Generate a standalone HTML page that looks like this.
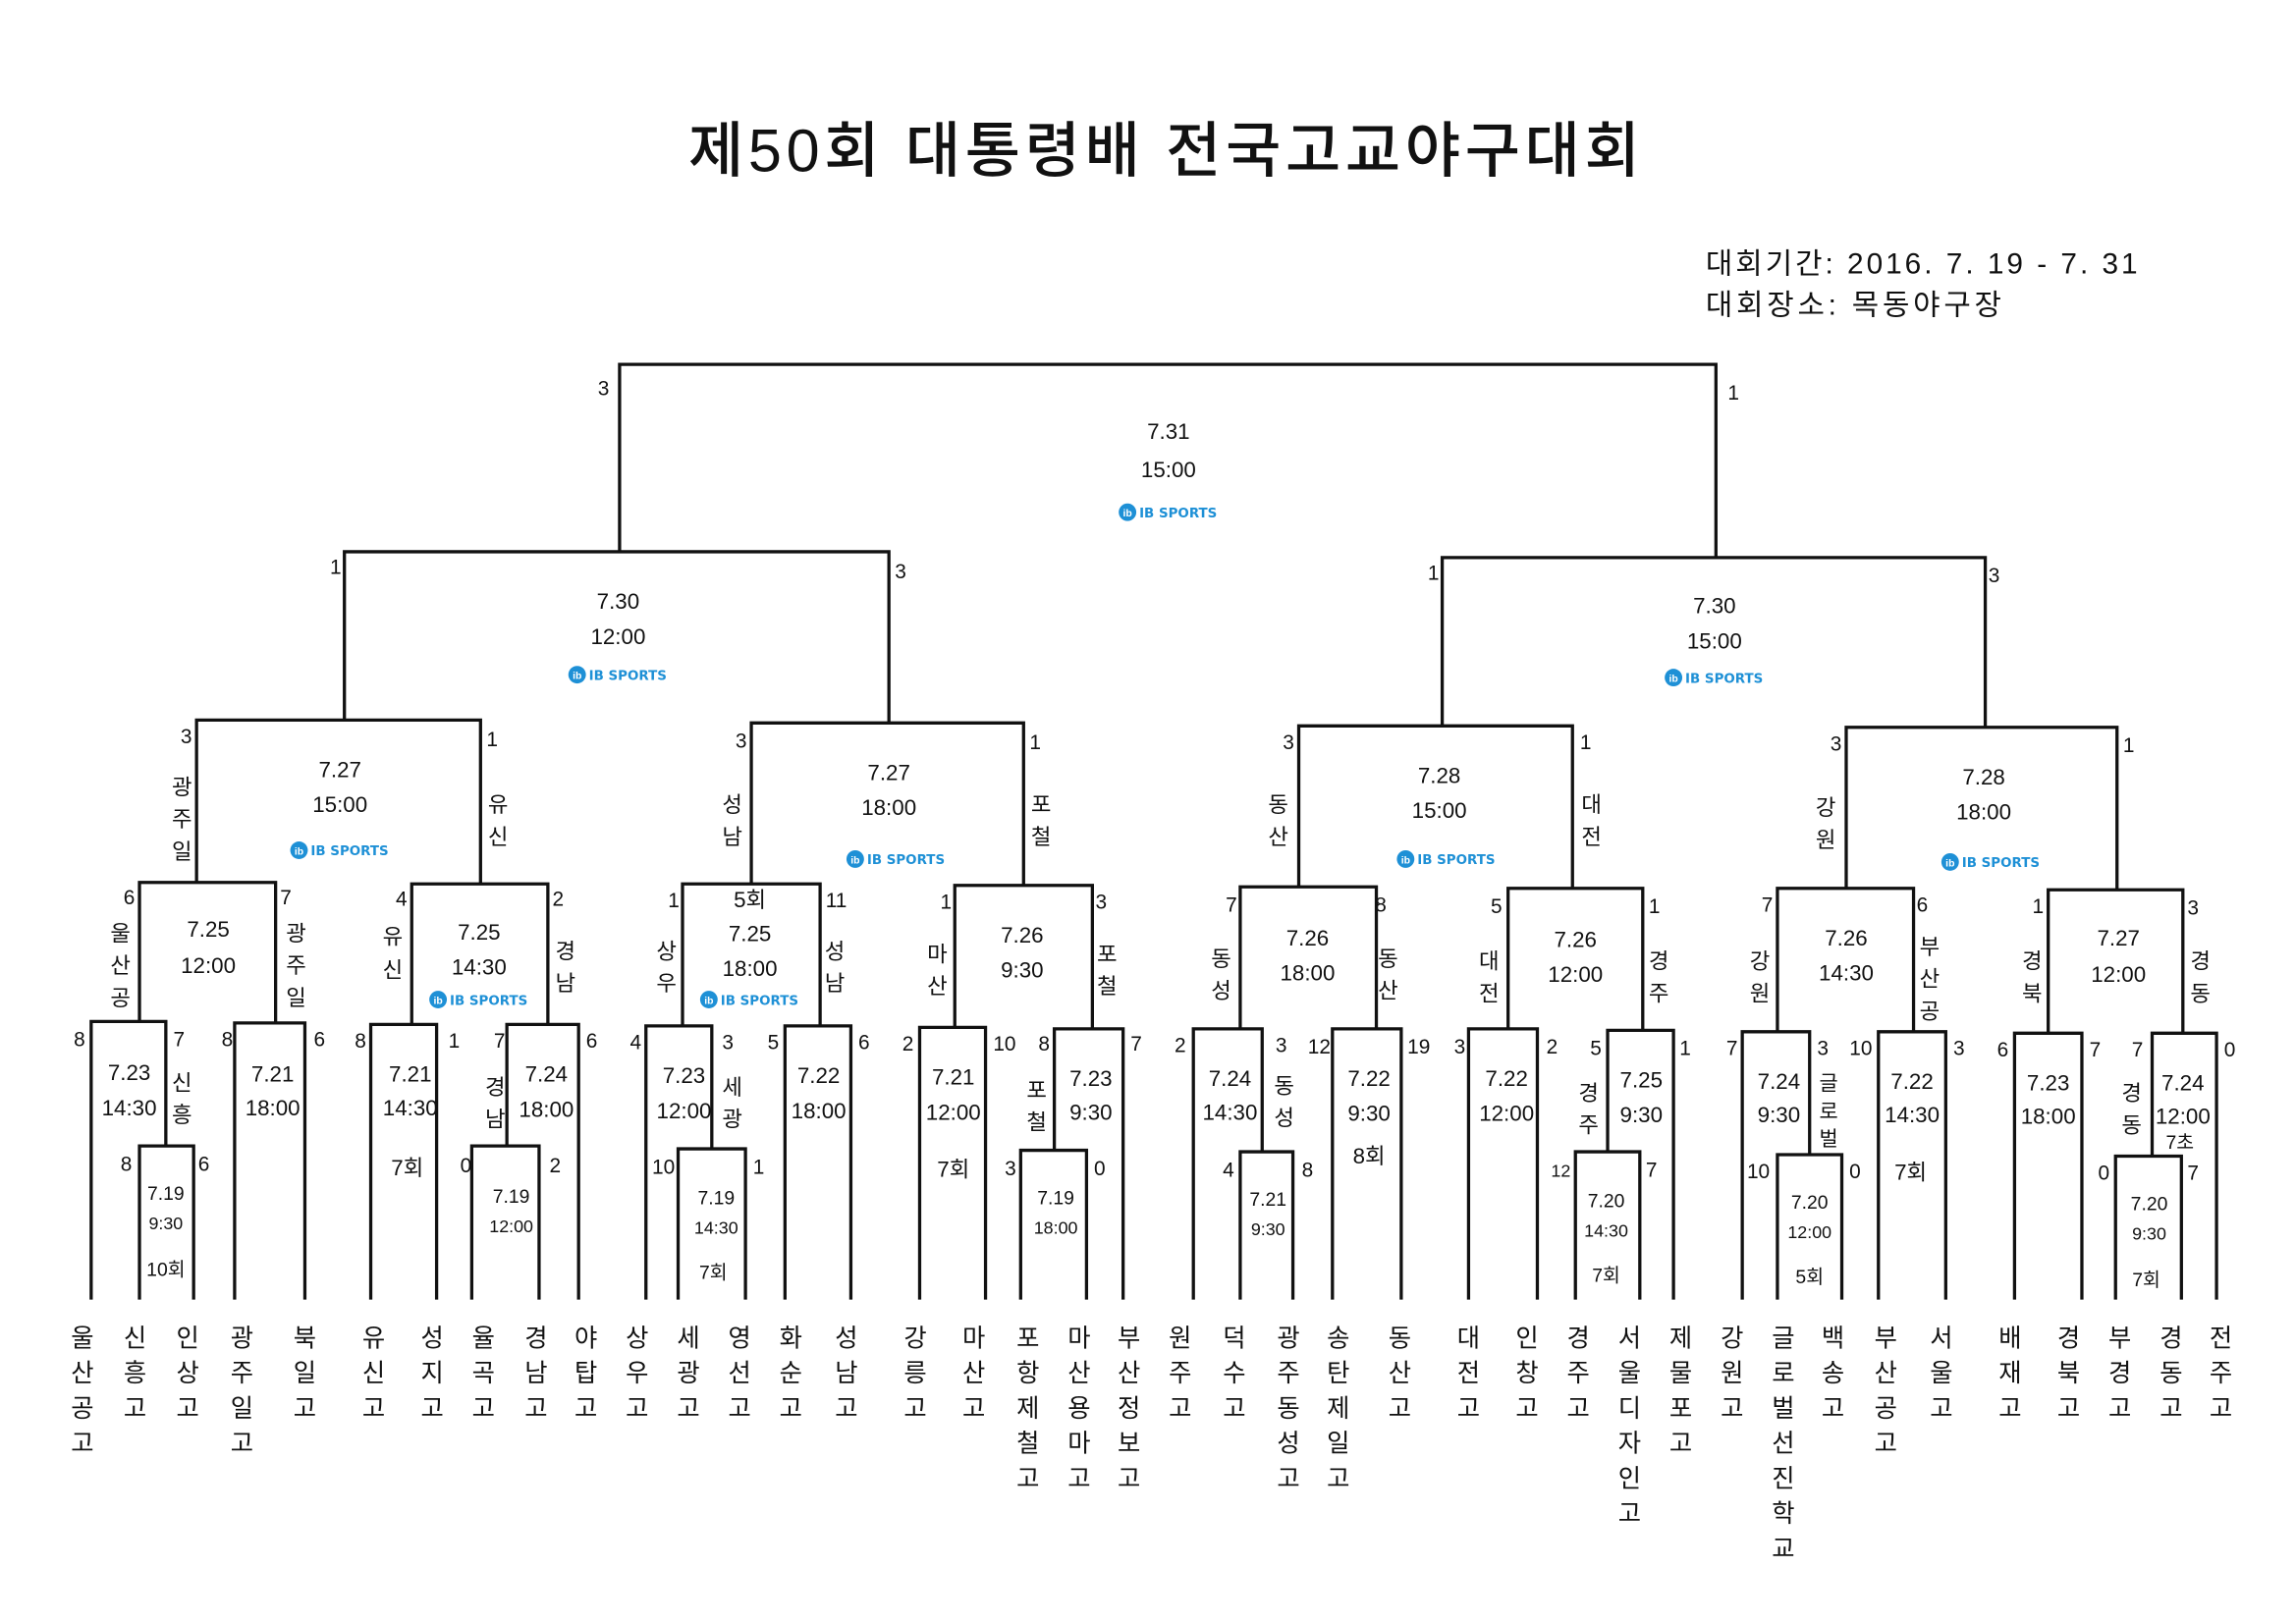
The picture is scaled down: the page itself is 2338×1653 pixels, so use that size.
<!DOCTYPE html>
<html><head><meta charset="utf-8"><style>
html,body{margin:0;padding:0;background:#fff}
svg{display:block}
text{font-family:"Liberation Sans","Noto Sans CJK KR",sans-serif;fill:#111}
.t{font-size:15px;text-anchor:middle}
.s{font-size:14px;text-anchor:middle}
.v{font-size:15px;text-anchor:middle}
.n{font-size:17px;text-anchor:middle}
.lg{font-size:9px;font-weight:bold;fill:#1e90d6;font-family:"DejaVu Sans","Liberation Sans",sans-serif}
</style></head><body>
<svg width="2338" height="1653" viewBox="0 0 1568 1109" xmlns="http://www.w3.org/2000/svg">
<text x="795" y="117" textLength="650" lengthAdjust="spacing" style="font-size:41px;text-anchor:middle;font-weight:500">제50회 대통령배 전국고교야구대회</text>
<text x="1165" y="187" textLength="295" lengthAdjust="spacing" style="font-size:20px">대회기간: 2016. 7. 19 - 7. 31</text>
<text x="1165" y="215" textLength="202" lengthAdjust="spacing" style="font-size:20px">대회장소: 목동야구장</text>

<g fill="none" stroke="#111" stroke-width="2.2">
<path d="M423 377V249H1172V381"/>
<path d="M235 492V377H607V494"/>
<path d="M985 496V381H1356V497"/>
<path d="M134 603V492H328V604"/>
<path d="M513 604V494H699V605"/>
<path d="M887 606V496H1074V607"/>
<path d="M1261 607V497H1446V608"/>
<path d="M95 698V603H188V699"/>
<path d="M281 700V604H374V700"/>
<path d="M466 701V604H560V701"/>
<path d="M652 702V605H746V703"/>
<path d="M847 703V606H940V703"/>
<path d="M1030 703V607H1122V704"/>
<path d="M1214 705V607H1307V705"/>
<path d="M1399 706V608H1491V706"/>
<path d="M62 888V698H113V783"/><path d="M95 888V783H132V888"/>
<path d="M160 888V699H208V888"/>
<path d="M253 888V700H298V888"/>
<path d="M346 783V700H395V888"/><path d="M322 888V783H368V888"/>
<path d="M441 888V701H486V785"/><path d="M463 888V785H509V888"/>
<path d="M536 888V701H581V888"/>
<path d="M628 888V702H673V888"/>
<path d="M720 786V703H767V888"/><path d="M697 888V786H742V888"/>
<path d="M815 888V703H862V787"/><path d="M847 888V787H883V888"/>
<path d="M910 888V703H957V888"/>
<path d="M1003 888V703H1050V888"/>
<path d="M1098 787V704H1143V888"/><path d="M1076 888V787H1120V888"/>
<path d="M1190 888V705H1236V789"/><path d="M1214 888V789H1258V888"/>
<path d="M1283 888V705H1329V888"/>
<path d="M1376 888V706H1422V888"/>
<path d="M1470 790V706H1514V888"/><path d="M1445 888V790H1490V888"/>
</g>

<g class="s">
<text class="s" x="412" y="270">3</text><text class="s" x="1184" y="273">1</text>
<text class="s" x="229" y="392">1</text><text class="s" x="615" y="395">3</text>
<text class="s" x="979" y="396">1</text><text class="s" x="1362" y="398">3</text>
<text class="s" x="127" y="508">3</text><text class="s" x="336" y="510">1</text>
<text class="s" x="506" y="511">3</text><text class="s" x="707" y="512">1</text>
<text class="s" x="880" y="512">3</text><text class="s" x="1083" y="512">1</text>
<text class="s" x="1254" y="513">3</text><text class="s" x="1454" y="514">1</text>
<text class="s" x="88" y="618">6</text><text class="s" x="195" y="618">7</text>
<text class="s" x="274" y="619">4</text><text class="s" x="381" y="619">2</text>
<text class="s" x="460" y="620">1</text><text class="s" x="571" y="620">11</text>
<text class="s" x="646" y="621">1</text><text class="s" x="752" y="621">3</text>
<text class="s" x="841" y="623">7</text><text class="s" x="943" y="623">8</text>
<text class="s" x="1022" y="624">5</text><text class="s" x="1130" y="624">1</text>
<text class="s" x="1207" y="623">7</text><text class="s" x="1313" y="623">6</text>
<text class="s" x="1392" y="624">1</text><text class="s" x="1498" y="625">3</text>
<text class="s" x="54" y="715">8</text><text class="s" x="122" y="715">7</text>
<text class="s" x="86" y="800">8</text><text class="s" x="139" y="800">6</text>
<text class="s" x="155" y="715">8</text><text class="s" x="218" y="715">6</text>
<text class="s" x="246" y="716">8</text><text class="s" x="310" y="716">1</text>
<text class="s" x="341" y="716">7</text><text class="s" x="404" y="716">6</text>
<text class="s" x="318" y="801">0</text><text class="s" x="379" y="801">2</text>
<text class="s" x="434" y="717">4</text><text class="s" x="497" y="717">3</text>
<text class="s" x="453" y="802">10</text><text class="s" x="518" y="802">1</text>
<text class="s" x="528" y="717">5</text><text class="s" x="590" y="717">6</text>
<text class="s" x="620" y="718">2</text><text class="s" x="686" y="718">10</text>
<text class="s" x="713" y="718">8</text><text class="s" x="776" y="718">7</text>
<text class="s" x="690" y="803">3</text><text class="s" x="751" y="803">0</text>
<text class="s" x="806" y="719">2</text><text class="s" x="875" y="719">3</text>
<text class="s" x="839" y="804">4</text><text class="s" x="893" y="804">8</text>
<text class="s" x="901" y="720">12</text><text class="s" x="969" y="720">19</text>
<text class="s" x="997" y="720">3</text><text class="s" x="1060" y="720">2</text>
<text class="s" x="1090" y="721">5</text><text class="s" x="1151" y="721">1</text>
<text class="s" x="1066" y="804" style="font-size:12px">12</text><text class="s" x="1128" y="804">7</text>
<text class="s" x="1183" y="721">7</text><text class="s" x="1245" y="721">3</text>
<text class="s" x="1201" y="805">10</text><text class="s" x="1267" y="805">0</text>
<text class="s" x="1271" y="721">10</text><text class="s" x="1338" y="721">3</text>
<text class="s" x="1368" y="722">6</text><text class="s" x="1431" y="722">7</text>
<text class="s" x="1460" y="722">7</text><text class="s" x="1523" y="722">0</text>
<text class="s" x="1437" y="806">0</text><text class="s" x="1498" y="806">7</text>
</g>

<g>
<text class="t" x="798" y="300">7.31</text><text class="t" x="798" y="326">15:00</text>
<text class="t" x="422" y="416">7.30</text><text class="t" x="422" y="440">12:00</text>
<text class="t" x="1171" y="419">7.30</text><text class="t" x="1171" y="443">15:00</text>
<text class="t" x="232" y="531">7.27</text><text class="t" x="232" y="555">15:00</text>
<text class="t" x="607" y="533">7.27</text><text class="t" x="607" y="557">18:00</text>
<text class="t" x="983" y="535">7.28</text><text class="t" x="983" y="559">15:00</text>
<text class="t" x="1355" y="536">7.28</text><text class="t" x="1355" y="560">18:00</text>
<text class="t" x="142" y="640">7.25</text><text class="t" x="142" y="665">12:00</text>
<text class="t" x="327" y="642">7.25</text><text class="t" x="327" y="666">14:30</text>
<text class="t" x="512" y="620">5회</text><text class="t" x="512" y="643">7.25</text><text class="t" x="512" y="667">18:00</text>
<text class="t" x="698" y="644">7.26</text><text class="t" x="698" y="668">9:30</text>
<text class="t" x="893" y="646">7.26</text><text class="t" x="893" y="670">18:00</text>
<text class="t" x="1076" y="647">7.26</text><text class="t" x="1076" y="671">12:00</text>
<text class="t" x="1261" y="646">7.26</text><text class="t" x="1261" y="670">14:30</text>
<text class="t" x="1447" y="646">7.27</text><text class="t" x="1447" y="671">12:00</text>

<text class="t" x="88" y="738">7.23</text><text class="t" x="88" y="762">14:30</text>
<text class="t" x="113" y="820" style="font-size:13px">7.19</text><text class="t" x="113" y="840" style="font-size:12px">9:30</text><text class="t" x="113" y="872" style="font-size:13px">10회</text>
<text class="t" x="186" y="739">7.21</text><text class="t" x="186" y="762">18:00</text>
<text class="t" x="280" y="739">7.21</text><text class="t" x="280" y="762">14:30</text><text class="t" x="278" y="803">7회</text>
<text class="t" x="373" y="739">7.24</text><text class="t" x="373" y="763">18:00</text>
<text class="t" x="349" y="822" style="font-size:13px">7.19</text><text class="t" x="349" y="842" style="font-size:12px">12:00</text>
<text class="t" x="467" y="740">7.23</text><text class="t" x="467" y="764">12:00</text>
<text class="t" x="489" y="823" style="font-size:13px">7.19</text><text class="t" x="489" y="843" style="font-size:12px">14:30</text><text class="t" x="487" y="874" style="font-size:13px">7회</text>
<text class="t" x="559" y="740">7.22</text><text class="t" x="559" y="764">18:00</text>
<text class="t" x="651" y="741">7.21</text><text class="t" x="651" y="765">12:00</text><text class="t" x="651" y="804">7회</text>
<text class="t" x="745" y="742">7.23</text><text class="t" x="745" y="765">9:30</text>
<text class="t" x="721" y="823" style="font-size:13px">7.19</text><text class="t" x="721" y="843" style="font-size:12px">18:00</text>
<text class="t" x="840" y="742">7.24</text><text class="t" x="840" y="765">14:30</text>
<text class="t" x="866" y="824" style="font-size:13px">7.21</text><text class="t" x="866" y="844" style="font-size:12px">9:30</text>
<text class="t" x="935" y="742">7.22</text><text class="t" x="935" y="766">9:30</text><text class="t" x="935" y="795">8회</text>
<text class="t" x="1029" y="742">7.22</text><text class="t" x="1029" y="766">12:00</text>
<text class="t" x="1121" y="743">7.25</text><text class="t" x="1121" y="767">9:30</text>
<text class="t" x="1097" y="825" style="font-size:13px">7.20</text><text class="t" x="1097" y="845" style="font-size:12px">14:30</text><text class="t" x="1097" y="876" style="font-size:13px">7회</text>
<text class="t" x="1215" y="744">7.24</text><text class="t" x="1215" y="767">9:30</text>
<text class="t" x="1236" y="826" style="font-size:13px">7.20</text><text class="t" x="1236" y="846" style="font-size:12px">12:00</text><text class="t" x="1236" y="877" style="font-size:13px">5회</text>
<text class="t" x="1306" y="744">7.22</text><text class="t" x="1306" y="767">14:30</text><text class="t" x="1305" y="806">7회</text>
<text class="t" x="1399" y="745">7.23</text><text class="t" x="1399" y="768">18:00</text>
<text class="t" x="1491" y="745">7.24</text><text class="t" x="1491" y="768">12:00</text><text class="t" x="1489" y="785" style="font-size:13px">7초</text>
<text class="t" x="1468" y="827" style="font-size:13px">7.20</text><text class="t" x="1468" y="847" style="font-size:12px">9:30</text><text class="t" x="1466" y="879" style="font-size:13px">7회</text>
</g>

<g>
<g transform="translate(798,350)"><circle cx="-28" cy="0" r="6" fill="#1e90d6"/><text x="-28" y="3" style="font-size:7px;fill:#fff;text-anchor:middle;font-weight:bold">ib</text><text class="lg" x="-20" y="3.5">IB SPORTS</text></g>
<g transform="translate(422,461)"><circle cx="-28" cy="0" r="6" fill="#1e90d6"/><text x="-28" y="3" style="font-size:7px;fill:#fff;text-anchor:middle;font-weight:bold">ib</text><text class="lg" x="-20" y="3.5">IB SPORTS</text></g>
<g transform="translate(1171,463)"><circle cx="-28" cy="0" r="6" fill="#1e90d6"/><text x="-28" y="3" style="font-size:7px;fill:#fff;text-anchor:middle;font-weight:bold">ib</text><text class="lg" x="-20" y="3.5">IB SPORTS</text></g>
<g transform="translate(232,581)"><circle cx="-28" cy="0" r="6" fill="#1e90d6"/><text x="-28" y="3" style="font-size:7px;fill:#fff;text-anchor:middle;font-weight:bold">ib</text><text class="lg" x="-20" y="3.5">IB SPORTS</text></g>
<g transform="translate(612,587)"><circle cx="-28" cy="0" r="6" fill="#1e90d6"/><text x="-28" y="3" style="font-size:7px;fill:#fff;text-anchor:middle;font-weight:bold">ib</text><text class="lg" x="-20" y="3.5">IB SPORTS</text></g>
<g transform="translate(988,587)"><circle cx="-28" cy="0" r="6" fill="#1e90d6"/><text x="-28" y="3" style="font-size:7px;fill:#fff;text-anchor:middle;font-weight:bold">ib</text><text class="lg" x="-20" y="3.5">IB SPORTS</text></g>
<g transform="translate(1360,589)"><circle cx="-28" cy="0" r="6" fill="#1e90d6"/><text x="-28" y="3" style="font-size:7px;fill:#fff;text-anchor:middle;font-weight:bold">ib</text><text class="lg" x="-20" y="3.5">IB SPORTS</text></g>
<g transform="translate(327,683)"><circle cx="-28" cy="0" r="6" fill="#1e90d6"/><text x="-28" y="3" style="font-size:7px;fill:#fff;text-anchor:middle;font-weight:bold">ib</text><text class="lg" x="-20" y="3.5">IB SPORTS</text></g>
<g transform="translate(512,683)"><circle cx="-28" cy="0" r="6" fill="#1e90d6"/><text x="-28" y="3" style="font-size:7px;fill:#fff;text-anchor:middle;font-weight:bold">ib</text><text class="lg" x="-20" y="3.5">IB SPORTS</text></g>
</g>

<g>
<text class="v"><tspan x="124" y="543">광</tspan><tspan x="124" y="565">주</tspan><tspan x="124" y="587">일</tspan></text>
<text class="v"><tspan x="340" y="555">유</tspan><tspan x="340" y="577">신</tspan></text>
<text class="v"><tspan x="500" y="555">성</tspan><tspan x="500" y="577">남</tspan></text>
<text class="v"><tspan x="711" y="555">포</tspan><tspan x="711" y="577">철</tspan></text>
<text class="v"><tspan x="873" y="555">동</tspan><tspan x="873" y="577">산</tspan></text>
<text class="v"><tspan x="1087" y="555">대</tspan><tspan x="1087" y="577">전</tspan></text>
<text class="v"><tspan x="1247" y="557">강</tspan><tspan x="1247" y="579">원</tspan></text>
<text class="v"><tspan x="82" y="643">울</tspan><tspan x="82" y="665">산</tspan><tspan x="82" y="687">공</tspan></text>
<text class="v"><tspan x="202" y="643">광</tspan><tspan x="202" y="665">주</tspan><tspan x="202" y="687">일</tspan></text>
<text class="v"><tspan x="268" y="645">유</tspan><tspan x="268" y="668">신</tspan></text>
<text class="v"><tspan x="386" y="655">경</tspan><tspan x="386" y="677">남</tspan></text>
<text class="v"><tspan x="455" y="655">상</tspan><tspan x="455" y="677">우</tspan></text>
<text class="v"><tspan x="570" y="655">성</tspan><tspan x="570" y="677">남</tspan></text>
<text class="v"><tspan x="640" y="657">마</tspan><tspan x="640" y="679">산</tspan></text>
<text class="v"><tspan x="756" y="657">포</tspan><tspan x="756" y="679">철</tspan></text>
<text class="v"><tspan x="834" y="660">동</tspan><tspan x="834" y="682">성</tspan></text>
<text class="v"><tspan x="948" y="660">동</tspan><tspan x="948" y="682">산</tspan></text>
<text class="v"><tspan x="1017" y="662">대</tspan><tspan x="1017" y="684">전</tspan></text>
<text class="v"><tspan x="1133" y="662">경</tspan><tspan x="1133" y="684">주</tspan></text>
<text class="v"><tspan x="1202" y="662">강</tspan><tspan x="1202" y="684">원</tspan></text>
<text class="v"><tspan x="1318" y="652">부</tspan><tspan x="1318" y="674">산</tspan><tspan x="1318" y="696">공</tspan></text>
<text class="v"><tspan x="1388" y="662">경</tspan><tspan x="1388" y="684">북</tspan></text>
<text class="v"><tspan x="1503" y="662">경</tspan><tspan x="1503" y="684">동</tspan></text>
<text class="v"><tspan x="124" y="745">신</tspan><tspan x="124" y="767">흥</tspan></text>
<text class="v"><tspan x="338" y="748">경</tspan><tspan x="338" y="770">남</tspan></text>
<text class="v"><tspan x="500" y="748">세</tspan><tspan x="500" y="770">광</tspan></text>
<text class="v"><tspan x="708" y="750">포</tspan><tspan x="708" y="772">철</tspan></text>
<text class="v"><tspan x="877" y="747">동</tspan><tspan x="877" y="769">성</tspan></text>
<text class="v"><tspan x="1085" y="752">경</tspan><tspan x="1085" y="774">주</tspan></text>
<text class="v" style="font-size:14px"><tspan x="1249" y="745">글</tspan><tspan x="1249" y="764">로</tspan><tspan x="1249" y="783">벌</tspan></text>
<text class="v"><tspan x="1456" y="752">경</tspan><tspan x="1456" y="774">동</tspan></text>
</g>

<g>
<text class="n"><tspan x="56" y="920">울</tspan><tspan x="56" y="944">산</tspan><tspan x="56" y="968">공</tspan><tspan x="56" y="992">고</tspan></text>
<text class="n"><tspan x="92" y="920">신</tspan><tspan x="92" y="944">흥</tspan><tspan x="92" y="968">고</tspan></text>
<text class="n"><tspan x="128" y="920">인</tspan><tspan x="128" y="944">상</tspan><tspan x="128" y="968">고</tspan></text>
<text class="n"><tspan x="165" y="920">광</tspan><tspan x="165" y="944">주</tspan><tspan x="165" y="968">일</tspan><tspan x="165" y="992">고</tspan></text>
<text class="n"><tspan x="208" y="920">북</tspan><tspan x="208" y="944">일</tspan><tspan x="208" y="968">고</tspan></text>
<text class="n"><tspan x="255" y="920">유</tspan><tspan x="255" y="944">신</tspan><tspan x="255" y="968">고</tspan></text>
<text class="n"><tspan x="295" y="920">성</tspan><tspan x="295" y="944">지</tspan><tspan x="295" y="968">고</tspan></text>
<text class="n"><tspan x="330" y="920">율</tspan><tspan x="330" y="944">곡</tspan><tspan x="330" y="968">고</tspan></text>
<text class="n"><tspan x="366" y="920">경</tspan><tspan x="366" y="944">남</tspan><tspan x="366" y="968">고</tspan></text>
<text class="n"><tspan x="400" y="920">야</tspan><tspan x="400" y="944">탑</tspan><tspan x="400" y="968">고</tspan></text>
<text class="n"><tspan x="435" y="920">상</tspan><tspan x="435" y="944">우</tspan><tspan x="435" y="968">고</tspan></text>
<text class="n"><tspan x="470" y="920">세</tspan><tspan x="470" y="944">광</tspan><tspan x="470" y="968">고</tspan></text>
<text class="n"><tspan x="505" y="920">영</tspan><tspan x="505" y="944">선</tspan><tspan x="505" y="968">고</tspan></text>
<text class="n"><tspan x="540" y="920">화</tspan><tspan x="540" y="944">순</tspan><tspan x="540" y="968">고</tspan></text>
<text class="n"><tspan x="578" y="920">성</tspan><tspan x="578" y="944">남</tspan><tspan x="578" y="968">고</tspan></text>
<text class="n"><tspan x="625" y="920">강</tspan><tspan x="625" y="944">릉</tspan><tspan x="625" y="968">고</tspan></text>
<text class="n"><tspan x="665" y="920">마</tspan><tspan x="665" y="944">산</tspan><tspan x="665" y="968">고</tspan></text>
<text class="n"><tspan x="702" y="920">포</tspan><tspan x="702" y="944">항</tspan><tspan x="702" y="968">제</tspan><tspan x="702" y="992">철</tspan><tspan x="702" y="1016">고</tspan></text>
<text class="n"><tspan x="737" y="920">마</tspan><tspan x="737" y="944">산</tspan><tspan x="737" y="968">용</tspan><tspan x="737" y="992">마</tspan><tspan x="737" y="1016">고</tspan></text>
<text class="n"><tspan x="771" y="920">부</tspan><tspan x="771" y="944">산</tspan><tspan x="771" y="968">정</tspan><tspan x="771" y="992">보</tspan><tspan x="771" y="1016">고</tspan></text>
<text class="n"><tspan x="806" y="920">원</tspan><tspan x="806" y="944">주</tspan><tspan x="806" y="968">고</tspan></text>
<text class="n"><tspan x="843" y="920">덕</tspan><tspan x="843" y="944">수</tspan><tspan x="843" y="968">고</tspan></text>
<text class="n"><tspan x="880" y="920">광</tspan><tspan x="880" y="944">주</tspan><tspan x="880" y="968">동</tspan><tspan x="880" y="992">성</tspan><tspan x="880" y="1016">고</tspan></text>
<text class="n"><tspan x="914" y="920">송</tspan><tspan x="914" y="944">탄</tspan><tspan x="914" y="968">제</tspan><tspan x="914" y="992">일</tspan><tspan x="914" y="1016">고</tspan></text>
<text class="n"><tspan x="956" y="920">동</tspan><tspan x="956" y="944">산</tspan><tspan x="956" y="968">고</tspan></text>
<text class="n"><tspan x="1003" y="920">대</tspan><tspan x="1003" y="944">전</tspan><tspan x="1003" y="968">고</tspan></text>
<text class="n"><tspan x="1043" y="920">인</tspan><tspan x="1043" y="944">창</tspan><tspan x="1043" y="968">고</tspan></text>
<text class="n"><tspan x="1078" y="920">경</tspan><tspan x="1078" y="944">주</tspan><tspan x="1078" y="968">고</tspan></text>
<text class="n"><tspan x="1113" y="920">서</tspan><tspan x="1113" y="944">울</tspan><tspan x="1113" y="968">디</tspan><tspan x="1113" y="992">자</tspan><tspan x="1113" y="1016">인</tspan><tspan x="1113" y="1040">고</tspan></text>
<text class="n"><tspan x="1148" y="920">제</tspan><tspan x="1148" y="944">물</tspan><tspan x="1148" y="968">포</tspan><tspan x="1148" y="992">고</tspan></text>
<text class="n"><tspan x="1183" y="920">강</tspan><tspan x="1183" y="944">원</tspan><tspan x="1183" y="968">고</tspan></text>
<text class="n"><tspan x="1218" y="920">글</tspan><tspan x="1218" y="944">로</tspan><tspan x="1218" y="968">벌</tspan><tspan x="1218" y="992">선</tspan><tspan x="1218" y="1016">진</tspan><tspan x="1218" y="1040">학</tspan><tspan x="1218" y="1064">교</tspan></text>
<text class="n"><tspan x="1252" y="920">백</tspan><tspan x="1252" y="944">송</tspan><tspan x="1252" y="968">고</tspan></text>
<text class="n"><tspan x="1288" y="920">부</tspan><tspan x="1288" y="944">산</tspan><tspan x="1288" y="968">공</tspan><tspan x="1288" y="992">고</tspan></text>
<text class="n"><tspan x="1326" y="920">서</tspan><tspan x="1326" y="944">울</tspan><tspan x="1326" y="968">고</tspan></text>
<text class="n"><tspan x="1373" y="920">배</tspan><tspan x="1373" y="944">재</tspan><tspan x="1373" y="968">고</tspan></text>
<text class="n"><tspan x="1413" y="920">경</tspan><tspan x="1413" y="944">북</tspan><tspan x="1413" y="968">고</tspan></text>
<text class="n"><tspan x="1448" y="920">부</tspan><tspan x="1448" y="944">경</tspan><tspan x="1448" y="968">고</tspan></text>
<text class="n"><tspan x="1483" y="920">경</tspan><tspan x="1483" y="944">동</tspan><tspan x="1483" y="968">고</tspan></text>
<text class="n"><tspan x="1517" y="920">전</tspan><tspan x="1517" y="944">주</tspan><tspan x="1517" y="968">고</tspan></text>
</g>
</svg>
</body></html>
